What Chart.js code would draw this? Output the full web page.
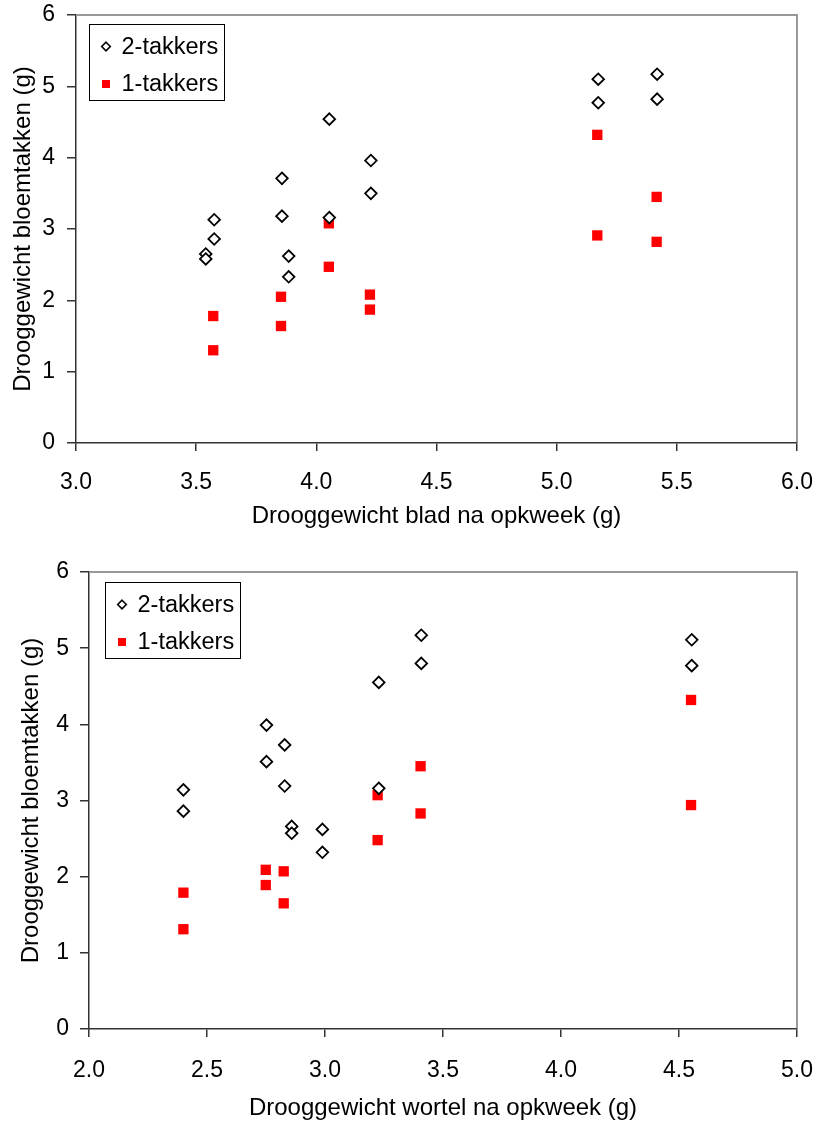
<!DOCTYPE html>
<html>
<head>
<meta charset="utf-8">
<script src="https://cdn.jsdelivr.net/npm/chart.js@4/dist/chart.umd.min.js"></script>
<style>
  html, body { margin: 0; padding: 0; background: #fff; }
  #top { position: absolute; left: 0; top: 0; }
  #bottom { position: absolute; left: 0; top: 545px; }
</style>
</head>
<body>
<canvas id="top" width="817" height="545"></canvas>
<canvas id="bottom" width="817" height="579"></canvas>
<script>
// labels
const seriesNames = ['2-takkers', '1-takkers'];
const yTitle = 'Drooggewicht bloemtakken (g)';
const leafTitle = 'Drooggewicht blad na opkweek (g)';
const rootTitle = 'Drooggewicht wortel na opkweek (g)';

// top chart: leaf dry weight
const leafX2 = [3.54, 3.54, 3.575, 3.575, 3.857, 3.857, 3.885, 3.885, 4.054, 4.054, 4.227, 4.227, 5.173, 5.173, 5.418, 5.418];
const leafY2 = [2.65, 2.58, 3.13, 2.86, 3.71, 3.18, 2.62, 2.33, 4.54, 3.16, 3.96, 3.50, 5.10, 4.77, 5.17, 4.82];
const leafX1 = [3.571, 3.571, 3.853, 3.853, 4.052, 4.052, 4.223, 4.223, 5.169, 5.169, 5.416, 5.416];
const leafY1 = [1.78, 1.30, 2.05, 1.64, 2.47, 3.08, 2.08, 1.87, 4.32, 2.91, 3.45, 2.82];

// bottom chart: root dry weight
const rootX2 = [2.40, 2.40, 2.752, 2.752, 2.829, 2.829, 2.859, 2.859, 2.989, 2.989, 3.228, 3.228, 3.408, 3.408, 4.554, 4.554];
const rootY2 = [3.14, 2.86, 3.99, 3.51, 3.73, 3.19, 2.66, 2.57, 2.62, 2.32, 4.55, 3.16, 5.17, 4.80, 5.11, 4.77];
const rootX1 = [2.40, 2.40, 2.749, 2.749, 2.825, 2.825, 3.223, 3.223, 3.405, 3.405, 4.551, 4.551];
const rootY1 = [1.79, 1.31, 2.09, 1.89, 2.07, 1.65, 2.48, 3.07, 3.45, 2.83, 4.32, 2.94];

const yTicks = [0, 1, 2, 3, 4, 5, 6];

Chart.defaults.font.family = '"Liberation Sans", Arial, sans-serif';
Chart.defaults.color = '#000';

const pts = (xs, ys) => xs.map((x, i) => ({ x: x, y: ys[i] }));

// gray frame on top/right + boxed legend inside plot area
const frameLegend = {
  id: 'frameLegend',
  afterDraw(chart, args, opts) {
    const ctx = chart.ctx, a = chart.chartArea;
    ctx.save();
    ctx.strokeStyle = '#999';
    ctx.lineWidth = 2;
    ctx.beginPath();
    ctx.moveTo(a.left + 1, a.top);
    ctx.lineTo(a.right, a.top);
    ctx.lineTo(a.right, a.bottom - 1);
    ctx.stroke();

    const bx = Math.round(a.left + opts.dx) + 0.5, by = Math.round(a.top + opts.dy) + 0.5;
    ctx.lineWidth = 1;
    ctx.strokeStyle = '#000';
    ctx.strokeRect(bx, by, 135, 76);
    chart.data.datasets.forEach((ds, i) => {
      const cx = bx + 16.5, cy = by + 22 + i * 37.5;
      ctx.beginPath();
      if (ds.pointStyle === 'rectRot') {
        const r = 4.3;
        ctx.moveTo(cx, cy - r); ctx.lineTo(cx + r, cy); ctx.lineTo(cx, cy + r); ctx.lineTo(cx - r, cy); ctx.closePath();
        ctx.fillStyle = '#fff'; ctx.fill();
        ctx.lineWidth = 1.6; ctx.strokeStyle = '#000'; ctx.stroke();
      } else {
        ctx.fillStyle = ds.pointBackgroundColor;
        ctx.fillRect(cx - 4, cy - 4, 8, 8);
      }
      ctx.fillStyle = '#000';
      ctx.font = '23.5px "Liberation Sans", Arial, sans-serif';
      ctx.textBaseline = 'middle';
      ctx.textAlign = 'left';
      ctx.fillText(ds.label, bx + 32, cy + 1);
    });
    ctx.restore();
  }
};

function makeChart(id, xs2, ys2, xs1, ys1, xMin, xMax, xTitle, g) {
  return new Chart(document.getElementById(id), {
    type: 'scatter',
    data: {
      datasets: [{
        label: seriesNames[0],
        data: pts(xs2, ys2),
        pointStyle: 'rectRot',
        pointRadius: 5.8,
        pointBackgroundColor: '#fff',
        pointBorderColor: '#000',
        pointBorderWidth: 1.8
      }, {
        label: seriesNames[1],
        data: pts(xs1, ys1),
        pointStyle: 'rect',
        pointRadius: 7.3,
        pointBackgroundColor: '#ff0000',
        pointBorderColor: '#ff0000',
        pointBorderWidth: 0
      }]
    },
    options: {
      responsive: false,
      animation: false,
      layout: { padding: { top: g.top, right: 20, left: 0, bottom: 0 } },
      plugins: {
        legend: { display: false },
        tooltip: { enabled: false },
        frameLegend: { dx: g.legX, dy: g.legY }
      },
      scales: {
        x: {
          type: 'linear',
          min: xMin,
          max: xMax,
          ticks: { stepSize: 0.5, callback: v => v.toFixed(1), font: { size: 23 }, padding: g.xPad, maxRotation: 0 },
          grid: { drawOnChartArea: false, tickLength: 8, color: '#333', lineWidth: 1.5 },
          border: { color: '#333', width: 1.5 },
          title: { display: true, text: xTitle, font: { size: 24 }, padding: { top: 0, bottom: g.xTitlePad } },
          afterFit: s => { s.height = g.xH; s.paddingLeft = 0; s.paddingRight = 0; }
        },
        y: {
          min: 0,
          max: 6,
          afterBuildTicks: s => { s.ticks = yTicks.map(v => ({ value: v })); },
          ticks: { font: { size: 23 }, padding: g.yPad },
          grid: { drawOnChartArea: false, tickLength: 9, color: '#333', lineWidth: 1.5 },
          border: { color: '#333', width: 1.5 },
          title: { display: true, text: yTitle, font: { size: 24 }, padding: { top: g.yTitlePad, bottom: 0 } },
          afterFit: s => { s.width = g.yW; s.paddingTop = 0; s.paddingBottom = 0; }
        }
      }
    },
    plugins: [frameLegend]
  });
}

makeChart('top', leafX2, leafY2, leafX1, leafY1, 3, 6, leafTitle,
  { top: 15, xH: 102, yW: 76, xPad: 18, yPad: 12, xTitlePad: 14, yTitlePad: 8.6, legX: 12.7, legY: 9 });
makeChart('bottom', rootX2, rootY2, rootX1, rootY1, 2, 5, rootTitle,
  { top: 27, xH: 95, yW: 89, xPad: 20, yPad: 11, xTitlePad: 1.6, yTitlePad: 16.6, legX: 16, legY: 10.3 });
</script>
</body>
</html>
